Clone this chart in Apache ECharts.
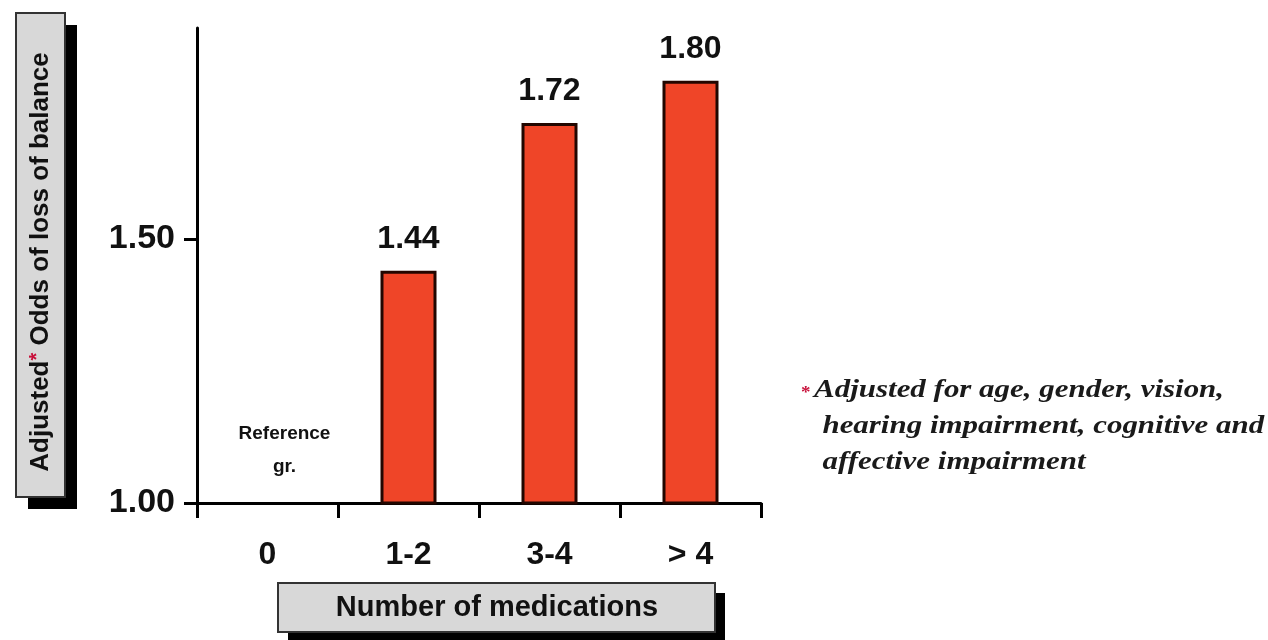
<!DOCTYPE html>
<html>
<head>
<meta charset="utf-8">
<script src="https://cdn.jsdelivr.net/npm/echarts@6/dist/echarts.min.js"></script>
<style>
  html, body { margin: 0; padding: 0; background: #ffffff; }
  #chart { width: 1268px; height: 640px; }
</style>
</head>
<body>
<div id="chart"></div>
<script>
// Number-of-medications groups and their adjusted odds of loss of balance
const categories = ['0', '1-2', '3-4', '> 4'];
const oddsValues = [1.00, 1.44, 1.72, 1.80];
const yTickValues = [1.00, 1.50];
const xTitle = 'Number of medications';
const yTitleParts = ['Adjusted', '*', ' Odds of loss of balance'];
const footnoteLines = [
  'Adjusted for age, gender, vision,',
  'hearing impairment, cognitive and',
  'affective impairment'
];

const SANS = '"Liberation Sans", Arial, Helvetica, sans-serif';
const SERIF = '"Liberation Serif", "Times New Roman", serif';
const BAR_RED = '#ef4528';
const BOX_GREY = '#d8d8d8';
const STAR_RED = '#c8103a';

const chart = echarts.init(document.getElementById('chart'), null, { renderer: 'canvas' });

const seriesData = oddsValues.map((v, i) => {
  if (i === 0) {
    // reference group: no visible bar, only its caption
    return {
      value: v,
      itemStyle: { color: 'rgba(0,0,0,0)', borderWidth: 0 },
      label: {
        formatter: 'Reference\ngr.',
        fontSize: 19,
        lineHeight: 33,
        fontWeight: 'bold',
        fontFamily: SANS,
        distance: 20,
        offset: [17, 0]
      }
    };
  }
  return { value: v };
});

// boxed axis titles with a hard drop shadow
function titleBox(x, y, w, h, sx, sy, textEl) {
  return {
    type: 'group',
    children: [
      { type: 'rect', shape: { x: x + sx, y: y + sy, width: w, height: h }, style: { fill: '#000' }, silent: true },
      { type: 'rect', shape: { x: x, y: y, width: w, height: h }, style: { fill: BOX_GREY, stroke: '#333', lineWidth: 2 }, silent: true },
      textEl
    ]
  };
}

chart.setOption({
  backgroundColor: '#ffffff',
  animation: false,
  grid: { left: 197, right: 507, top: 28, bottom: 137, containLabel: false },
  xAxis: {
    type: 'category',
    data: categories,
    boundaryGap: true,
    axisLine: { show: true, lineStyle: { color: '#000', width: 3 } },
    axisTick: { show: true, length: 15, lineStyle: { color: '#000', width: 3 } },
    axisLabel: {
      margin: 36,
      fontSize: 32,
      fontWeight: 'bold',
      fontFamily: SANS,
      color: '#111'
    },
    splitLine: { show: false }
  },
  yAxis: {
    type: 'value',
    min: 1.0,
    max: 1.9,
    axisLine: { show: true, lineStyle: { color: '#000', width: 3 } },
    axisTick: {
      show: true,
      length: 13,
      customValues: yTickValues,
      lineStyle: { color: '#000', width: 3 }
    },
    axisLabel: {
      customValues: yTickValues,
      margin: 22,
      fontSize: 34,
      fontWeight: 'bold',
      fontFamily: SANS,
      color: '#111',
      formatter: (v) => v.toFixed(2)
    },
    splitLine: { show: false }
  },
  series: [{
    type: 'bar',
    data: seriesData,
    barWidth: 56,
    itemStyle: {
      color: BAR_RED,
      borderColor: '#220600',
      borderWidth: 3
    },
    label: {
      show: true,
      position: 'top',
      distance: 16,
      fontSize: 32,
      fontWeight: 'bold',
      fontFamily: SANS,
      color: '#111',
      formatter: (p) => Number(p.value).toFixed(2)
    }
  }],
  graphic: [
    // y-axis title
    titleBox(16, 13, 49, 484, 12, 12, {
      type: 'text',
      x: 41,
      y: 262,
      rotation: Math.PI / 2,
      style: {
        text: '{t|' + yTitleParts[0] + '}{s|' + yTitleParts[1] + '}{t|' + yTitleParts[2] + '}',
        align: 'center',
        verticalAlign: 'middle',
        rich: {
          t: { fontSize: 26, fontWeight: 'bold', fontFamily: SANS, fill: '#111', lineHeight: 30 },
          s: { fontSize: 20, fontWeight: 'bold', fontFamily: SANS, fill: STAR_RED, lineHeight: 30, padding: [0, 0, 8, 0] }
        }
      }
    }),
    // x-axis title
    titleBox(278, 583, 437, 49, 10, 10, {
      type: 'text',
      x: 497,
      y: 608,
      style: {
        text: xTitle,
        align: 'center',
        verticalAlign: 'middle',
        fontSize: 29,
        fontWeight: 'bold',
        fontFamily: SANS,
        fill: '#111'
      }
    }),
    // footnote on the adjustment
    {
      type: 'text',
      x: 801,
      y: 372,
      scaleX: 1.19,
      style: {
        text: '{s|*}{a|' + footnoteLines[0] + '}\n{b|' + footnoteLines[1] + '}\n{b|' + footnoteLines[2] + '}',
        rich: {
          s: { fontSize: 16, fontFamily: SERIF, fontWeight: 'bold', fill: STAR_RED, lineHeight: 36, padding: [6, 0, 0, 0] },
          a: { fontSize: 26, fontFamily: SERIF, fontStyle: 'italic', fontWeight: 'bold', fill: '#1a1a1a', lineHeight: 36, padding: [0, 0, 0, 3] },
          b: { fontSize: 26, fontFamily: SERIF, fontStyle: 'italic', fontWeight: 'bold', fill: '#1a1a1a', lineHeight: 36, padding: [0, 0, 0, 18] }
        }
      }
    }
  ]
});
</script>
</body>
</html>
